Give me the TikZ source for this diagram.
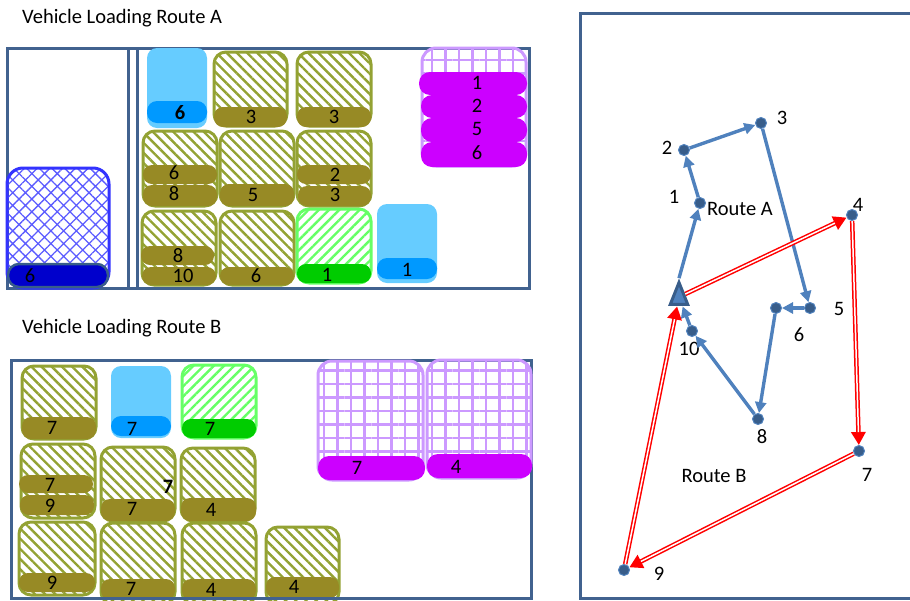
\documentclass[tikz,border=0pt]{standalone}
\usepackage{fontspec}
\setmainfont{Carlito}
\usetikzlibrary{patterns.meta,arrows.meta,shapes.geometric}
\definecolor{frameC}{HTML}{41628F}
\definecolor{oliveB}{HTML}{93A233}
\definecolor{oliveD}{HTML}{978A25}
\definecolor{lblue}{HTML}{66CCFF}
\definecolor{mblue}{HTML}{0099FF}
\definecolor{lgreen}{HTML}{66FF66}
\definecolor{dgreen}{HTML}{00CC00}
\definecolor{lpurple}{HTML}{CC99FF}
\definecolor{magent}{HTML}{CC00FF}
\definecolor{netblue}{HTML}{3333FF}
\definecolor{netbar}{HTML}{0000CC}
\definecolor{routeA}{HTML}{4F81BD}
\definecolor{dotC}{HTML}{385D8A}
\begin{document}
\begin{tikzpicture}[x=1pt,y=-1pt,font=\fontsize{20.5}{24}\selectfont,
 frame/.style={draw=frameC,line width=3pt},
 obox/.style={draw=oliveB,line width=3pt,rounded corners=12pt,pattern={Lines[angle=-45,distance=7.2pt,line width=2.4pt]},pattern color=oliveB},
 obar/.style={fill=oliveD,rounded corners=9pt},
 gbox/.style={draw=lgreen,line width=3pt,rounded corners=12pt,pattern={Lines[angle=45,distance=7.2pt,line width=2.4pt]},pattern color=lgreen},
 gbar/.style={fill=dgreen,rounded corners=9pt},
 lbox/.style={fill=lblue,rounded corners=10pt},
 lbar/.style={fill=mblue,rounded corners=10pt},
 pbox/.style={draw=lpurple,line width=3pt,rounded corners=14pt,pattern={Hatch[angle=0,distance=13.5pt,line width=2.2pt]},pattern color=lpurple},
 pbar/.style={fill=magent,rounded corners=11pt},
 nbox/.style={draw=netblue,line width=3pt,rounded corners=16pt,pattern={Hatch[angle=45,distance=9pt,line width=1.3pt]},pattern color=netblue!80},
 nbar/.style={fill=netbar,draw=dotC,line width=2.5pt,rounded corners=11pt},
 lbl/.style={inner sep=0pt,anchor=center},
 title/.style={inner sep=0pt,anchor=base west},
 dot/.style={circle,fill=dotC,draw=routeA,line width=1pt,minimum size=11pt,inner sep=0pt},
 blueline/.style={draw=routeA,line width=3.4pt,-{Triangle[length=11pt,width=11pt]}},
 redline/.style={draw=red,line width=4.5pt,-{Triangle[length=13pt,width=14pt]},postaction={draw=white,line width=1.5pt,-,shorten >=13pt}}
]
\useasboundingbox (0,0) rectangle (910,600);

% ---------- titles
\node[title] (tA) at (22,23) {Vehicle Loading Route A};
\node[title] (tB) at (22,333) {Vehicle Loading Route B};

% ---------- Route A container
\draw[frame] (7,48) rectangle (529,288);
\draw[frame] (128,48) -- (128,288);
\draw[frame] (137,48) -- (137,288);

% net box
\path[nbox] (7,168) rectangle (109,288);
\path[nbar] (8,264) rectangle (108,287);
\node[lbl] (a0) at (30,276) {6};

% row 1
\path[lbox] (147,48) rectangle (207,128);
\path[lbar] (147,101) rectangle (207,123);
\node[lbl] (a1) at (180,113) {\textbf{6}};
\path[obox] (214,52) rectangle (287,126);
\path[obar] (214,107) rectangle (287,127);
\node[lbl] (a2) at (251,117) {3};
\path[obox] (297,52) rectangle (371,126);
\path[obar] (297,107) rectangle (371,127);
\node[lbl] (a3) at (334,117) {3};
\path[pbox] (422,48) rectangle (526,166);
\path[pbar] (419,72) rectangle (527,95);
\node[lbl] (a4) at (477,83) {1};
\path[pbar] (421,95) rectangle (527,118);
\node[lbl] (a5) at (477,106) {2};
\path[pbar] (421,118) rectangle (527,142);
\node[lbl] (a6) at (477,129) {5};
\path[pbar] (421,142) rectangle (527,167);
\node[lbl] (a7) at (477,153) {6};

% row 2
\path[obox] (143,131) rectangle (217,206);
\path[obar] (143,165) rectangle (217,184);
\node[lbl] (a8) at (174,173) {6};
\path[obar] (143,185) rectangle (217,206);
\node[lbl] (a9) at (174,194) {8};
\path[obox] (220,131) rectangle (294,206);
\path[obar] (220,184) rectangle (294,206);
\node[lbl] (a10) at (253,195) {5};
\path[obox] (297,131) rectangle (371,206);
\path[obar] (297,165) rectangle (371,184);
\node[lbl] (a11) at (335,175) {2};
\path[obar] (298,186) rectangle (371,206);
\node[lbl] (a12) at (335,195) {3};

% row 3
\path[obox] (142,211) rectangle (216,285);
\path[obar] (141,246) rectangle (214,265);
\node[lbl] (a13) at (178,256) {8};
\path[obar] (142,267) rectangle (216,285);
\node[lbl] (a14) at (183,276) {10};
\path[obox] (220,211) rectangle (294,285);
\path[obar] (220,267) rectangle (294,285);
\node[lbl] (a15) at (256,276) {6};
\path[gbox] (297,209) rectangle (371,283);
\path[gbar] (297,264) rectangle (371,283);
\node[lbl] (a16) at (327,275) {1};
\path[lbox] (377,204) rectangle (437,283);
\path[lbar] (377,258) rectangle (437,279);
\node[lbl] (a17) at (407,270) {1};

% ---------- Route B container
\draw[frame] (11,360) rectangle (531,598);

% row 1
\path[obox] (22,366) rectangle (96,439);
\path[obar] (22,417) rectangle (96,439);
\node[lbl] (b1) at (52,428) {7};
\path[lbox] (111,366) rectangle (171,438);
\path[lbar] (111,416) rectangle (171,436);
\node[lbl] (b2) at (132,429) {7};
\path[gbox] (182,365) rectangle (256,438);
\path[gbar] (182,419) rectangle (256,438);
\node[lbl] (b3) at (210,429) {7};
\path[pbox] (318,361) rectangle (423,480);
\path[pbar] (318,456) rectangle (425,480);
\node[lbl] (b4) at (357,468) {7};
\path[pbox] (427,360) rectangle (531,478);
\path[pbar] (427,454) rectangle (532,478);
\node[lbl] (b5) at (456,467) {4};

% row 2
\path[obox] (21,444) rectangle (95,518);
\path[obar] (19,475) rectangle (93,493);
\node[lbl] (b6) at (50,485) {7};
\path[obar] (20,495) rectangle (94,515);
\node[lbl] (b7) at (50,506) {9};
\path[obox] (101,447) rectangle (175,521);
\path[obar] (101,499) rectangle (175,521);
\node[lbl] (b8) at (132,509) {7};
\node[lbl] (b9) at (168,487) {\textbf{7}};
\path[obox] (181,448) rectangle (255,521);
\path[obar] (181,498) rectangle (256,521);
\node[lbl] (b10) at (211,510) {4};

% row 3
\path[obox] (19,522) rectangle (95,595);
\path[obar] (19,573) rectangle (95,592);
\node[lbl] (b11) at (52,583) {9};
\path[obox] (101,523) rectangle (175,604);
\path[obar] (101,579) rectangle (175,600);
\node[lbl] (b12) at (131,589) {7};
\path[obox] (182,523) rectangle (256,604);
\path[obar] (182,579) rectangle (256,600);
\node[lbl] (b13) at (211,590) {4};
\path[obox] (266,527) rectangle (339,604);
\path[obar] (266,577) rectangle (339,598);
\node[lbl] (b14) at (294,587) {4};
\draw[frame] (11,598) -- (531,598);

% ---------- route map
\draw[frame] (580,13) rectangle (920,598);

\begin{scope}[shift={(679,297)}]
\node[regular polygon,regular polygon sides=3,minimum size=20pt,inner sep=0pt,
      fill=routeA,draw=dotC,line width=3pt,yscale=1.45] (dep) at (0,0) {};
\end{scope}

\node[dot] (n1) at (700,203) {};
\node[dot] (n2) at (684,150) {};
\node[dot] (n3) at (761,123) {};
\node[dot] (n4) at (852,215) {};
\node[dot] (n5) at (810,308) {};
\node[dot] (n6) at (776,308) {};
\node[dot] (n7) at (859,451) {};
\node[dot] (n8) at (758,419) {};
\node[dot] (n9) at (624,570) {};
\node[dot] (n10) at (692,331) {};

\node[lbl] (l1) at (674,197) {1};
\node[lbl] (l2) at (667,148) {2};
\node[lbl] (l3) at (782,118) {3};
\node[lbl] (l4) at (858,205) {4};
\node[lbl] (l5) at (839,309) {5};
\node[lbl] (l6) at (799,335) {6};
\node[lbl] (l7) at (867,475) {7};
\node[lbl] (l8) at (762,437) {8};
\node[lbl] (l9) at (659,574) {9};
\node[lbl] (l10) at (689,349) {10};
\node[lbl] (rA) at (740,209) {Route A};
\node[lbl] (rB) at (714,476) {Route B};

\draw[blueline] (dep.corner 1) -- (n1);
\draw[blueline] (n1) -- (n2);
\draw[blueline] (n2) -- (n3);
\draw[blueline] (n3) -- (n5);
\draw[blueline] (n5) -- (n6);
\draw[blueline] (n6) -- (n8);
\draw[blueline] (n8) -- (n10);
\draw[blueline] (n10) -- (dep);

\draw[redline] (dep) -- (n4);
\draw[redline] (n4) -- (n7);
\draw[redline] (n7) -- (n9);
\draw[redline] (n9) -- (dep);
\end{tikzpicture}
\end{document}
